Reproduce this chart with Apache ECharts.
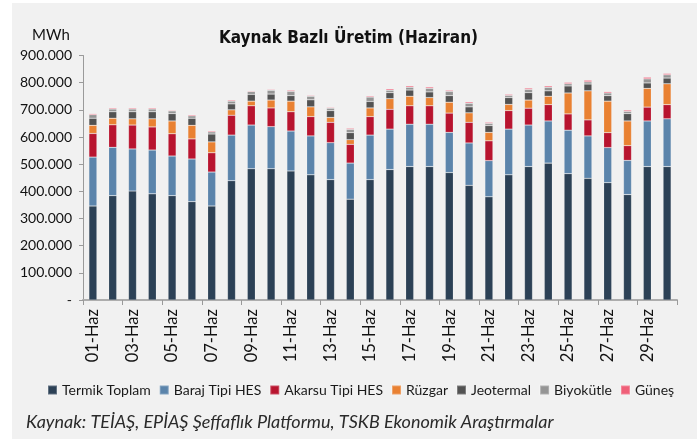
<!DOCTYPE html>
<html>
<head>
<meta charset="utf-8">
<script src="https://cdn.jsdelivr.net/npm/echarts@6/dist/echarts.min.js"></script>
<style>
html,body{margin:0;padding:0;background:#fff;}
#c{width:697px;height:439px;}
</style>
</head>
<body>
<div id="c"></div>
<script>
const categories = ['01-Haz','02-Haz','03-Haz','04-Haz','05-Haz','06-Haz','07-Haz','08-Haz','09-Haz','10-Haz',
  '11-Haz','12-Haz','13-Haz','14-Haz','15-Haz','16-Haz','17-Haz','18-Haz','19-Haz','20-Haz',
  '21-Haz','22-Haz','23-Haz','24-Haz','25-Haz','26-Haz','27-Haz','28-Haz','29-Haz','30-Haz'];
const termik = [346000,384000,401000,391000,384000,362000,346000,439000,483000,483000,475000,461000,443000,371000,443000,480000,491000,491000,469000,422000,380000,461000,491000,504000,465000,448000,432000,388000,491000,491000];
const baraj = [180000,178000,155000,161000,146000,157000,125000,168000,161000,155000,147000,143000,136000,133000,164000,149000,156000,156000,148000,156000,133000,168000,153000,155000,160000,156000,129000,126000,168000,176000];
const akarsu = [87000,83000,88000,85000,82000,74000,71000,73000,71000,69000,71000,71000,75000,69000,68000,73000,68000,68000,71000,76000,73000,68000,62000,60000,60000,59000,55000,54000,51000,52000];
const ruzgar = [30000,24000,23000,30000,47000,50000,40000,20000,17000,29000,39000,36000,18000,17000,32000,39000,35000,30000,40000,35000,31000,23000,30000,31000,77000,107000,116000,91000,69000,77000];
const jeotermal = [26000,24000,26000,26000,27000,26000,29000,22000,25000,22000,20000,26000,25000,26000,24000,22000,23000,21000,24000,22000,25000,25000,27000,20000,26000,25000,20000,27000,20000,21000];
const biyokutle = [13000,10000,10000,10000,10000,9000,8000,10000,10000,14000,16000,13000,9000,12000,16000,9000,10000,13000,16000,13000,8000,8000,12000,13000,8000,8000,10000,8000,15000,12000];
const gunes = [4000,4000,4000,4000,3000,4000,4000,4000,3000,3000,4000,3000,3000,4000,4000,5000,5000,5000,4000,5000,4000,4000,5000,5000,5000,6000,5000,5000,6000,5000];
const seriesNames = ['Termik Toplam','Baraj Tipi HES','Akarsu Tipi HES','Rüzgar','Jeotermal','Biyokütle','Güneş'];
const seriesData = [termik, baraj, akarsu, ruzgar, jeotermal, biyokutle, gunes];
const colors = ['#2c4156','#5b84ab','#b8142f','#e98132','#525252','#959595','#ef5f78'];
const yTicks = {min:0, max:900000, interval:100000};

const font = 'Lato, "Noto Sans", sans-serif';
const chart = echarts.init(document.getElementById('c'), null, {renderer:'canvas'});
chart.setOption({
  animation:false,
  backgroundColor:'#ffffff',
  color: colors,
  graphic:[
    {type:'rect', z:-100, silent:true, shape:{x:12,y:3,width:685,height:436}, style:{fill:'#f1f1f1'}},
    {type:'text', left:26, top:413, style:{text:'Kaynak: TEİAŞ, EPİAŞ Şeffaflık Platformu, TSKB Ekonomik Araştırmalar', font:'italic 18px '+font, fill:'#2a2a2a'}}
  ],
  title:[
    {text:'Kaynak Bazlı Üretim (Haziran)', left:'center', top:30, padding:0,
     textStyle:{fontFamily:'"DejaVu Sans Condensed", sans-serif', fontWeight:'bold', fontSize:17, color:'#111'}},
    {text:'MWh', left:32, top:28, padding:0, textStyle:{fontFamily:font, fontWeight:'normal', fontSize:15, color:'#111'}}
  ],
  legend:{
    left:47, top:383, itemWidth:9, itemHeight:9, itemGap:8, icon:'rect', padding:0,
    textStyle:{fontFamily:font, fontSize:14, color:'#1a1a1a'},
    data: seriesNames
  },
  grid:{left:83, right:20, top:55.5, bottom:139},
  xAxis:{
    type:'category', data:categories,
    axisLine:{lineStyle:{color:'#adadad', width:2}},
    axisTick:{show:true, interval:1, length:5, lineStyle:{color:'#9a9a9a'}},
    axisLabel:{interval:1, rotate:90, margin:9, fontFamily:font, fontSize:16.5, color:'#111'}
  },
  yAxis:{
    type:'value', min:yTicks.min, max:yTicks.max, interval:yTicks.interval,
    axisLine:{show:true, lineStyle:{color:'#9a9a9a', width:1}},
    axisTick:{show:true, length:4, lineStyle:{color:'#9a9a9a'}},
    splitLine:{show:false},
    axisLabel:{margin:11, fontFamily:font, fontSize:14, color:'#111',
      formatter:function(v){return v===0 ? '-' : (v/1000)+'.000';}}
  },
  series: seriesNames.map(function(n,i){
    return {name:n, type:'bar', stack:'total', barWidth:8, data:seriesData[i],
      itemStyle:{borderColor:'rgba(255,255,255,0.25)', borderWidth:0.6}};
  })
});
</script>
</body>
</html>
